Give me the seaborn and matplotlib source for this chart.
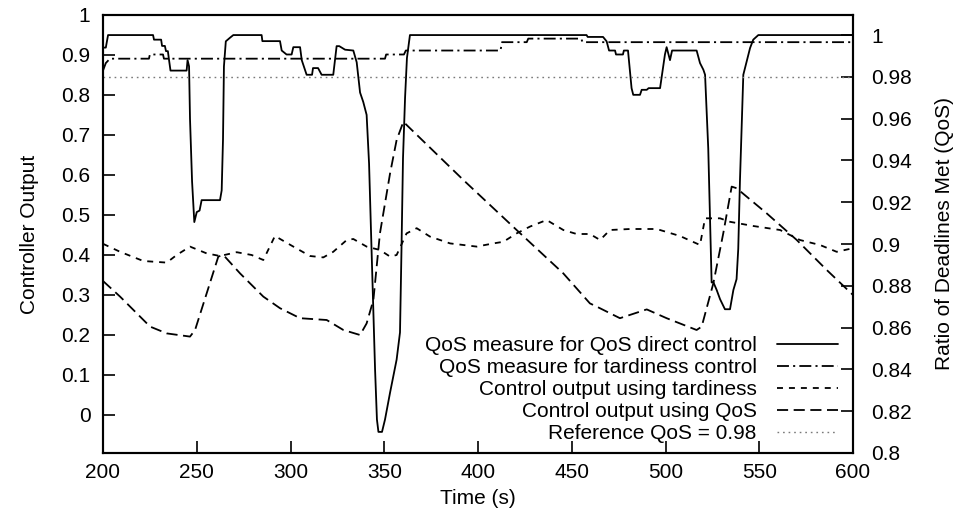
import numpy as np
import pandas as pd
import matplotlib
matplotlib.use("Agg")
import matplotlib.pyplot as plt
import seaborn as sns
from matplotlib.ticker import FuncFormatter

# ---------------- data ----------------
qos_direct_t = [200.0, 201.5, 202.7, 226.7, 227.2, 231.0, 231.5, 233.0, 233.6, 234.6,
                235.2, 236.0, 244.6, 245.1, 245.9, 246.4, 247.5, 248.7, 250.0, 251.5,
                252.6, 262.4, 263.3, 264.0, 264.5, 265.5, 267.7, 269.5, 284.6, 285.0,
                294.4, 295.3, 297.9, 300.6, 301.5, 305.1, 306.0, 308.6, 311.5, 312.0,
                314.7, 316.6, 322.8, 324.6, 326.0, 329.1, 333.5, 335.3, 337.1, 338.8,
                340.6, 341.9, 342.9, 344.0, 345.1, 346.1, 346.9, 348.8, 350.4, 353.1,
                356.6, 358.4, 359.2, 360.0, 361.1, 362.1, 363.7, 457.9, 458.5, 466.7,
                468.6, 469.9, 473.1, 473.6, 477.3, 477.8, 480.0, 481.9, 482.8, 486.4,
                487.3, 490.0, 491.0, 497.1, 499.7, 500.6, 502.4, 503.5, 516.6, 518.4,
                520.2, 521.1, 522.8, 524.6, 525.5, 527.3, 529.1, 531.7, 534.4, 536.2,
                537.9, 538.8, 539.7, 541.5, 543.3, 545.1, 546.8, 549.5, 600.0]
qos_direct_v = [0.994, 0.994, 1.0, 1.0, 0.9978, 0.9978, 0.9948, 0.9948, 0.9923, 0.9923,
                0.9882, 0.983, 0.983, 0.988, 0.985, 0.96, 0.93, 0.9105, 0.9153, 0.916,
                0.921, 0.921, 0.9257, 0.95, 0.985, 0.997, 0.9987, 1.0, 1.0, 0.9971,
                0.9971, 0.9926, 0.9907, 0.9907, 0.9942, 0.9942, 0.988, 0.981, 0.981, 0.9842,
                0.9842, 0.981, 0.981, 0.9947, 0.9947, 0.993, 0.9926, 0.987, 0.9725, 0.968,
                0.9618, 0.9385, 0.9073, 0.8736, 0.84, 0.816, 0.8101, 0.8101, 0.816, 0.8289,
                0.8447, 0.8577, 0.8977, 0.941, 0.97, 0.989, 1.0, 1.0, 0.9991, 0.9991,
                0.997, 0.9926, 0.9926, 0.9907, 0.9907, 0.9926, 0.9926, 0.9746, 0.9714, 0.9714,
                0.9738, 0.9738, 0.9746, 0.9746, 0.9907, 0.9942, 0.988, 0.9926, 0.9926, 0.9866,
                0.9834, 0.981, 0.9457, 0.8816, 0.8818, 0.878, 0.8736, 0.8688, 0.8688, 0.878,
                0.8832, 0.8977, 0.93, 0.981, 0.9874, 0.9938, 0.9978, 1.0, 1.0]

qos_tard_t = [200.0, 201.5, 203.7, 224.5, 225.0, 232.0, 232.5, 350.4, 351.0, 360.5,
              361.5, 412.0, 412.8, 426.0, 426.8, 455.0, 455.8, 600.0]
qos_tard_v = [0.983, 0.9866, 0.9887, 0.9887, 0.9907, 0.9907, 0.9887, 0.9887, 0.9907, 0.9907,
              0.9926, 0.9926, 0.9966, 0.9966, 0.9983, 0.9983, 0.9966, 0.9966]

ctrl_tard_t = [200.0, 209.1, 221.5, 234.0, 239.3, 246.4, 255.3, 262.4, 271.3, 279.3,
               285.5, 291.7, 301.5, 310.4, 317.5, 322.8, 330.0, 333.5, 340.6, 347.7,
               353.1, 356.6, 361.9, 367.3, 374.4, 385.1, 399.3, 408.2, 413.5, 420.6,
               427.7, 436.6, 445.5, 452.6, 459.7, 465.1, 470.4, 481.1, 495.3, 507.7,
               518.4, 521.1, 529.1, 534.4, 546.8, 561.1, 571.7, 582.4, 591.3, 600.0]
ctrl_tard_v = [0.428, 0.408, 0.385, 0.381, 0.40, 0.421, 0.404, 0.3975, 0.407, 0.40,
               0.3875, 0.4475, 0.421, 0.3975, 0.394, 0.408, 0.4375, 0.44, 0.421, 0.4125,
               0.396, 0.40, 0.454, 0.467, 0.446, 0.429, 0.421, 0.429, 0.433, 0.454,
               0.471, 0.4875, 0.4625, 0.4525, 0.4525, 0.4375, 0.4625, 0.465, 0.465, 0.4475,
               0.425, 0.4917, 0.4917, 0.483, 0.4725, 0.4625, 0.4375, 0.425, 0.408, 0.417]

ctrl_qos_t = [200.0, 209.1, 225.1, 234.0, 246.4, 249.1, 261.5, 264.2, 273.1, 285.5,
              294.4, 305.1, 319.3, 328.2, 337.1, 340.6, 344.2, 347.7, 353.1, 356.6,
              360.2, 363.7, 392.2, 420.6, 445.5, 459.7, 463.3, 475.7, 490.0, 500.6,
              516.6, 519.3, 525.5, 530.8, 535.3, 537.9, 554.0, 570.0, 586.0, 600.0]
ctrl_qos_v = [0.335, 0.296, 0.221, 0.204, 0.196, 0.2125, 0.396, 0.40, 0.354, 0.296,
              0.267, 0.242, 0.2375, 0.2125, 0.20, 0.229, 0.2875, 0.454, 0.604, 0.6875,
              0.733, 0.717, 0.5875, 0.4625, 0.354, 0.279, 0.271, 0.242, 0.264, 0.242,
              0.2125, 0.221, 0.329, 0.454, 0.571, 0.567, 0.504, 0.4375, 0.3625, 0.30]

ref_qos = 0.98
time_span = [200, 600]

labels = ["QoS measure for QoS direct control",
          "QoS measure for tardiness control",
          "Control output using tardiness",
          "Control output using QoS",
          "Reference QoS = 0.98"]

# ---------------- style ----------------
sns.set_style("ticks", {"axes.edgecolor": "black", "xtick.color": "black",
                        "ytick.color": "black", "text.color": "black",
                        "axes.labelcolor": "black"})
plt.rcParams['font.family'] = ['Liberation Sans', 'DejaVu Sans']
plt.rcParams['lines.scale_dashes'] = False
FS = 15

fig = plt.figure(figsize=(9.61, 5.17), dpi=100)
ax = fig.add_axes([103/961, 1 - 453/517, 750/961, 438/517])
ax2 = ax.twinx()

lw = 1.3
sns.lineplot(x=ctrl_tard_t, y=ctrl_tard_v, ax=ax, color="black", lw=lw,
             linestyle=(0, (4.3, 4.3)), sort=False, estimator=None)
sns.lineplot(x=ctrl_qos_t, y=ctrl_qos_v, ax=ax, color="black", lw=lw,
             linestyle=(0, (8.0, 4.0)), sort=False, estimator=None)
sns.lineplot(x=qos_direct_t, y=qos_direct_v, ax=ax2, color="black", lw=lw,
             linestyle="-", sort=False, estimator=None)
sns.lineplot(x=qos_tard_t, y=qos_tard_v, ax=ax2, color="black", lw=lw,
             linestyle=(0, (8.6, 3.0, 1.5, 3.0)), sort=False, estimator=None)
sns.lineplot(x=time_span, y=[ref_qos, ref_qos], ax=ax2, color="#7a7a7a", lw=1.0,
             linestyle=(0, (1.2, 2.8)), sort=False, estimator=None)

h_ct, h_cq = ax.get_lines()[0], ax.get_lines()[1]
h_qd, h_qt, h_ref = ax2.get_lines()[0], ax2.get_lines()[1], ax2.get_lines()[2]

ax.set_xlim(200, 600)
ax.set_ylim(-0.095, 1.0)
ax2.set_ylim(0.8, 1.0096)
ax.set_xticks(np.arange(200, 601, 50))
ax.set_yticks(np.round(np.arange(0, 1.001, 0.1), 2))
ax2.set_yticks(np.round(np.arange(0.8, 1.0001, 0.02), 2))
fmt = FuncFormatter(lambda v, p: f"{v:g}")
ax.yaxis.set_major_formatter(fmt)
ax2.yaxis.set_major_formatter(fmt)

ax.tick_params(axis="both", direction="in", length=8.5, width=1.2, labelsize=FS,
               top=False, right=False)
ax.tick_params(axis="y", pad=9)
ax.tick_params(axis="x", pad=7)
ax2.tick_params(axis="y", direction="in", length=8.5, width=1.2, labelsize=FS,
                right=True, left=False, pad=13)
for a in (ax, ax2):
    for s in a.spines.values():
        s.set_linewidth(1.5)
        s.set_color("black")

ax.set_xlabel("Time (s)", fontsize=FS, labelpad=5)
ax.set_ylabel("Controller Output", fontsize=FS, labelpad=16)
ax2.set_ylabel("Ratio of Deadlines Met (QoS)", fontsize=FS, labelpad=17)

leg = ax2.legend([h_qd, h_qt, h_ct, h_cq, h_ref], labels, loc="lower right",
                 bbox_to_anchor=(0.98, 0.022), frameon=False, markerfirst=False,
                 fontsize=FS, handlelength=2.95, handletextpad=0.95,
                 labelspacing=0.15, borderpad=0.0, borderaxespad=0.0)

fig.savefig("out.png", dpi=100)
